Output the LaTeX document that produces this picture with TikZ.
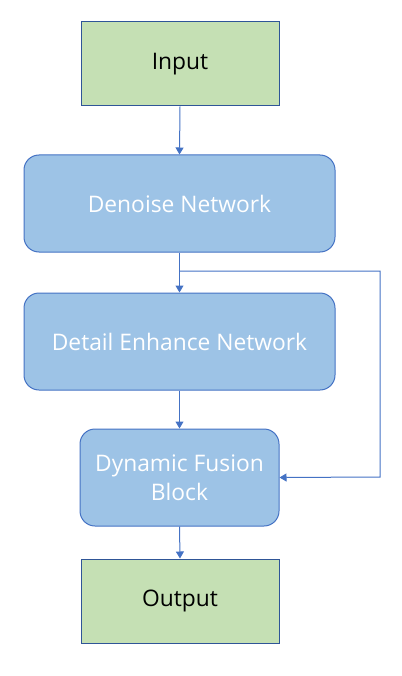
\documentclass[tikz,border=0pt]{standalone}
\usepackage{fontspec}
\setmainfont{Open Sans}
\usetikzlibrary{arrows.meta}
\definecolor{greenfill}{HTML}{C5E0B4}
\definecolor{bluefill}{HTML}{9DC3E6}
\definecolor{blueline}{HTML}{4472C4}
\definecolor{darkline}{HTML}{2F5597}
\begin{document}
\begin{tikzpicture}[x=1pt,y=-1pt,
  iobox/.style={draw=darkline, line width=1pt, fill=greenfill, minimum width=198pt, minimum height=84pt, text=black, font=\fontsize{22.8}{29}\selectfont, inner sep=0pt},
  netbox/.style={draw=blueline, line width=1pt, fill=bluefill, rounded corners=15pt, minimum height=97pt, text=white, font=\fontsize{22.8}{29}\selectfont, align=center, inner sep=0pt},
  conn/.style={draw=blueline, line width=1pt, -{Triangle[length=7pt,width=8pt]}}
]
\useasboundingbox (0,0) rectangle (401,676);
\node[iobox] (in) at (180,64) {Input};
\node[netbox, minimum width=311pt] (den) at (179.5,203.5) {Denoise Network};
\node[netbox, minimum width=311pt] (det) at (179.5,341.5) {Detail Enhance Network};
\node[netbox, minimum width=199pt] (fus) at (179.5,477.5) {Dynamic Fusion\\Block};
\node[iobox] (out) at (180,601) {Output};
\coordinate (br) at (180,271);
\coordinate (c1) at (380,271);
\coordinate (c2) at (380,477);
\draw[conn] (in.south) -- (den.north);
\draw[conn] (den.south) -- (det.north);
\draw[conn] (br) -- (c1) -- (c2) -- (fus.east);
\draw[conn] (det.south) -- (fus.north);
\draw[conn] (fus.south) -- (out.north);
\end{tikzpicture}
\end{document}
